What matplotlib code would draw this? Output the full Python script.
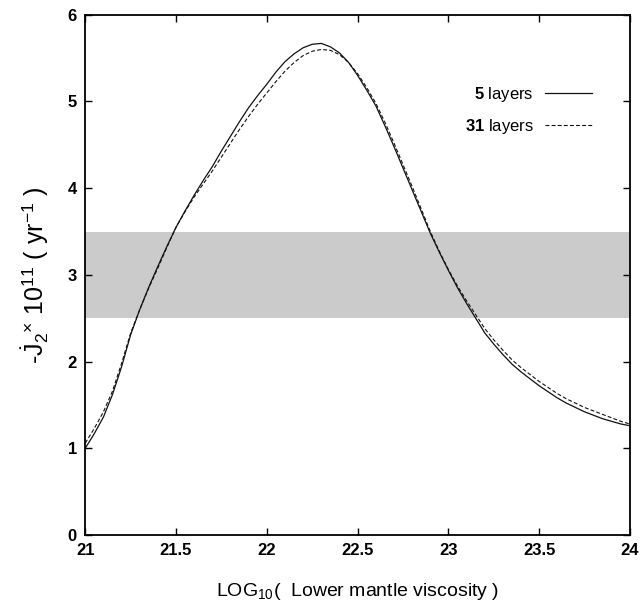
import numpy as np
import matplotlib
matplotlib.use("Agg")
import matplotlib.pyplot as plt

# log10 of lower mantle viscosity
visc = [21.00, 21.05, 21.10, 21.15, 21.20, 21.25, 21.30, 21.35, 21.40, 21.45,
        21.50, 21.55, 21.60, 21.65, 21.70, 21.75, 21.80, 21.85, 21.90, 21.95,
        22.00, 22.05, 22.10, 22.15, 22.20, 22.25, 22.30, 22.35, 22.40, 22.45,
        22.50, 22.55, 22.60, 22.65, 22.70, 22.75, 22.80, 22.85, 22.90, 22.95,
        23.00, 23.05, 23.10, 23.15, 23.20, 23.25, 23.30, 23.35, 23.40, 23.45,
        23.50, 23.55, 23.60, 23.65, 23.70, 23.75, 23.80, 23.85, 23.90, 23.95,
        24.00]

# -J2dot x 1e11 (1/yr), 5 layer model
j2_5 = [1.00, 1.17, 1.36, 1.62, 1.94, 2.31, 2.60, 2.86, 3.10, 3.33,
        3.55, 3.74, 3.92, 4.09, 4.25, 4.43, 4.60, 4.77, 4.93, 5.07,
        5.20, 5.34, 5.46, 5.55, 5.62, 5.66, 5.67, 5.63, 5.56, 5.45,
        5.30, 5.13, 4.95, 4.72, 4.48, 4.23, 3.98, 3.73, 3.48, 3.26,
        3.05, 2.85, 2.67, 2.50, 2.33, 2.20, 2.08, 1.97, 1.88, 1.80,
        1.72, 1.65, 1.58, 1.52, 1.47, 1.42, 1.38, 1.34, 1.31, 1.28,
        1.26]

# 31 layer model
j2_31 = [1.06, 1.23, 1.42, 1.66, 1.98, 2.33, 2.60, 2.85, 3.08, 3.32,
         3.55, 3.73, 3.90, 4.05, 4.20, 4.36, 4.52, 4.68, 4.83, 4.97,
         5.10, 5.23, 5.35, 5.45, 5.53, 5.58, 5.60, 5.59, 5.54, 5.45,
         5.32, 5.16, 4.98, 4.76, 4.52, 4.27, 4.02, 3.76, 3.50, 3.27,
         3.06, 2.87, 2.70, 2.54, 2.38, 2.25, 2.13, 2.02, 1.93, 1.85,
         1.77, 1.70, 1.63, 1.57, 1.52, 1.47, 1.43, 1.39, 1.35, 1.31,
         1.28]

# observed range
obs_low, obs_high = 2.5, 3.5

xticks = [21, 21.5, 22, 22.5, 23, 23.5, 24]
xticklabels = ["21", "21.5", "22", "22.5", "23", "23.5", "24"]
yticks = [0, 1, 2, 3, 4, 5, 6]

plt.rcParams['font.family'] = ['Liberation Sans', 'DejaVu Sans']
plt.rcParams['mathtext.fontset'] = 'custom'
plt.rcParams['mathtext.rm'] = 'Liberation Sans'
plt.rcParams['mathtext.it'] = 'Liberation Sans'
plt.rcParams['mathtext.bf'] = 'Liberation Sans:bold'

fig = plt.figure(figsize=(6.41, 6.16), dpi=100)
ax = fig.add_axes([0.133, 0.1315, 0.850, 0.8445])

ax.axhspan(obs_low, obs_high, facecolor='#cbcbcb', edgecolor='none', zorder=0)

ax.plot(visc, j2_5, color='#111111', lw=0.9, label=r'$\mathbf{5}$ layers')
ax.plot(visc, j2_31, color='#111111', lw=0.8, linestyle=(0, (3.5, 2)),
        label=r'$\mathbf{31}$ layers')

ax.set_xlim(21, 24)
ax.set_ylim(0, 6)
ax.set_xticks(xticks)
ax.set_xticklabels(xticklabels)
ax.set_yticks(yticks)

tick_font = dict(family=['Liberation Sans Narrow', 'Liberation Sans'], weight='bold', size=12)
for lab in ax.get_xticklabels() + ax.get_yticklabels():
    lab.set_fontproperties(matplotlib.font_manager.FontProperties(**tick_font))

ax.tick_params(direction='in', length=5, width=1, top=True, right=True, pad=6)
for s in ax.spines.values():
    s.set_linewidth(1.3)

ax.set_xlabel(r'LOG$_{10}$(  Lower mantle viscosity )', fontsize=14, labelpad=16)
ax.set_ylabel(r'-$\dot{\mathrm{J}}_2$$^{\times}$ 10$^{11}$ ( yr$^{-1}$ )', fontsize=18, labelpad=12)

ax.legend(loc='upper right', bbox_to_anchor=(0.93, 0.865), frameon=False,
          markerfirst=False, fontsize=12, handlelength=2.8, handletextpad=0.7,
          labelspacing=0.75, borderpad=0, borderaxespad=0)

fig.savefig("out.png", dpi=100)
